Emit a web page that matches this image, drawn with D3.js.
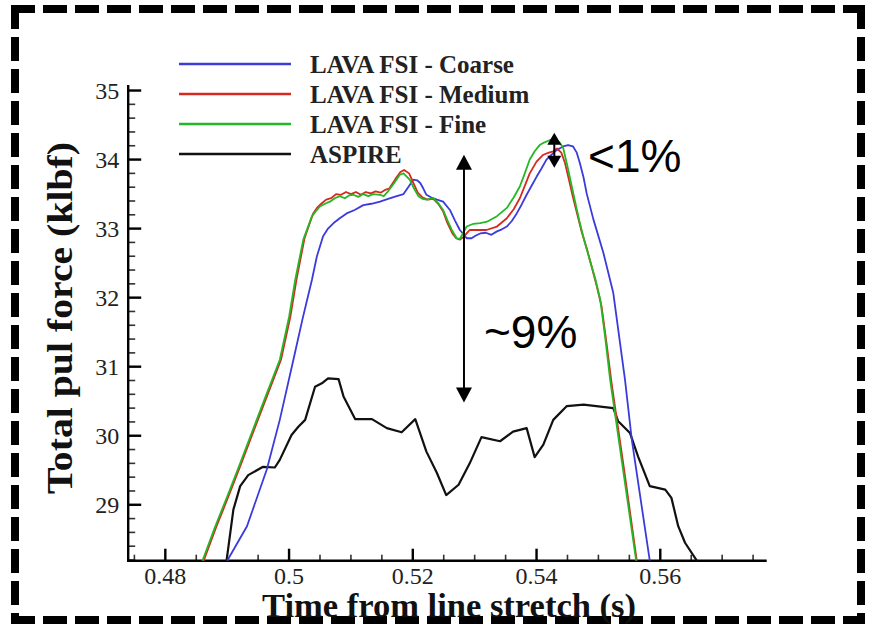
<!DOCTYPE html>
<html><head><meta charset="utf-8">
<script src="https://cdn.jsdelivr.net/npm/d3@7"></script>
<style>
html,body{margin:0;padding:0;background:#fff;}
svg{display:block;}
</style></head>
<body>
<svg id="chart" width="869" height="628"></svg>
<script>
// ---------------- DATA ----------------
const seriesNames = ["LAVA FSI - Coarse", "LAVA FSI - Medium", "LAVA FSI - Fine", "ASPIRE"];
const seriesColors = ["#3b3bdc", "#d42a20", "#24b824", "#111111"];

const coarseT = [0.4900,0.4932,0.4964,0.4985,0.5007,0.5022,0.5037,0.5045,0.5055,0.5063,0.5072,0.5082,0.5093,0.5106,0.5120,0.5133,0.5147,0.5160,0.5174,0.5185,0.5195,0.5201,0.5207,0.5212,0.5217,0.5222,0.5230,0.5239,0.5249,0.5260,0.5268,0.5276,0.5282,0.5287,0.5295,0.5302,0.5309,0.5318,0.5327,0.5336,0.5344,0.5352,0.5360,0.5368,0.5376,0.5384,0.5392,0.5400,0.5408,0.5416,0.5423,0.5430,0.5437,0.5443,0.5451,0.5459,0.5465,0.5470,0.5476,0.5481,0.5492,0.5508,0.5524,0.5543,0.5554,0.5583];
const coarseV = [28.19,28.69,29.51,30.23,31.10,31.70,32.26,32.60,32.89,33.00,33.08,33.15,33.22,33.27,33.34,33.36,33.39,33.43,33.47,33.50,33.63,33.71,33.70,33.66,33.58,33.49,33.45,33.42,33.39,33.27,33.12,32.98,32.92,32.86,32.86,32.90,32.93,32.94,32.91,32.96,32.99,33.03,33.11,33.22,33.35,33.49,33.62,33.75,33.87,34.00,34.06,34.12,34.16,34.19,34.21,34.19,34.10,33.95,33.74,33.51,33.13,32.65,32.07,30.81,29.94,28.19];

const mediumT = [0.4862,0.4882,0.4902,0.4922,0.4942,0.4962,0.4987,0.5002,0.5012,0.5025,0.5039,0.5045,0.5052,0.5060,0.5068,0.5076,0.5084,0.5092,0.5100,0.5108,0.5116,0.5124,0.5132,0.5140,0.5148,0.5155,0.5162,0.5172,0.5180,0.5186,0.5194,0.5200,0.5208,0.5216,0.5224,0.5233,0.5241,0.5249,0.5256,0.5264,0.5270,0.5276,0.5282,0.5287,0.5292,0.5305,0.5319,0.5336,0.5352,0.5363,0.5373,0.5381,0.5389,0.5400,0.5411,0.5420,0.5427,0.5433,0.5440,0.5446,0.5452,0.5459,0.5466,0.5473,0.5481,0.5489,0.5497,0.5505,0.5513,0.5521,0.5542,0.5562];
const mediumV = [28.19,28.67,29.12,29.58,30.05,30.52,31.10,31.72,32.26,32.86,33.22,33.30,33.36,33.42,33.44,33.50,33.49,33.53,33.50,33.53,33.49,33.53,33.51,33.54,33.52,33.56,33.58,33.72,33.82,33.85,33.80,33.68,33.52,33.45,33.42,33.43,33.36,33.25,33.08,32.93,32.86,32.84,32.88,32.93,32.98,32.98,32.98,33.03,33.15,33.28,33.44,33.62,33.80,33.97,34.07,34.10,34.12,34.16,34.10,33.95,33.72,33.45,33.20,32.95,32.72,32.45,32.18,31.88,31.35,30.78,29.48,28.19];

const fineT = [0.4860,0.4880,0.4900,0.4920,0.4940,0.4960,0.4985,0.5000,0.5010,0.5023,0.5037,0.5043,0.5050,0.5058,0.5066,0.5074,0.5082,0.5090,0.5097,0.5104,0.5112,0.5120,0.5128,0.5136,0.5147,0.5153,0.5160,0.5170,0.5179,0.5185,0.5195,0.5202,0.5209,0.5216,0.5222,0.5233,0.5241,0.5249,0.5256,0.5263,0.5271,0.5276,0.5281,0.5287,0.5298,0.5309,0.5320,0.5336,0.5352,0.5363,0.5373,0.5381,0.5389,0.5397,0.5405,0.5413,0.5421,0.5430,0.5437,0.5443,0.5450,0.5457,0.5464,0.5470,0.5478,0.5486,0.5495,0.5503,0.5511,0.5519,0.5540,0.5561];
const fineV = [28.19,28.67,29.12,29.58,30.05,30.52,31.10,31.72,32.26,32.84,33.18,33.25,33.32,33.36,33.39,33.44,33.47,33.44,33.48,33.49,33.46,33.50,33.47,33.50,33.49,33.47,33.54,33.66,33.78,33.80,33.71,33.58,33.47,33.43,33.42,33.44,33.37,33.27,33.12,32.98,32.86,32.85,32.93,33.03,33.07,33.08,33.10,33.18,33.30,33.45,33.61,33.80,34.00,34.12,34.21,34.25,34.28,34.29,34.25,34.17,33.90,33.61,33.32,33.08,32.80,32.55,32.27,31.97,31.42,30.81,29.50,28.19];

const aspireT = [0.4899,0.4910,0.4921,0.4934,0.4958,0.4977,0.4985,0.5004,0.5015,0.5026,0.5042,0.5053,0.5063,0.5080,0.5088,0.5107,0.5134,0.5158,0.5182,0.5204,0.5222,0.5239,0.5254,0.5274,0.5292,0.5311,0.5341,0.5362,0.5384,0.5397,0.5411,0.5427,0.5449,0.5476,0.5524,0.5532,0.5551,0.5564,0.5583,0.5608,0.5618,0.5629,0.5640,0.5659];
const aspireV = [28.19,28.93,29.27,29.43,29.55,29.54,29.65,30.01,30.13,30.23,30.71,30.76,30.83,30.82,30.57,30.24,30.24,30.11,30.05,30.24,29.77,29.46,29.14,29.29,29.60,29.98,29.92,30.06,30.11,29.69,29.87,30.23,30.43,30.45,30.40,30.21,30.04,29.70,29.27,29.22,29.10,28.69,28.45,28.19];

const xMajorTicks = [0.48, 0.50, 0.52, 0.54, 0.56];
const xTickLabels = ["0.48", "0.5", "0.52", "0.54", "0.56"];
const xMinorTicks = [0.475,0.485,0.49,0.495,0.505,0.51,0.515,0.525,0.53,0.535,0.545,0.55,0.555,0.565,0.57,0.575];
const yMajorTicks = [29, 30, 31, 32, 33, 34, 35];
const yTickLabels = ["29", "30", "31", "32", "33", "34", "35"];
const yMinorTicks = [28.2,28.4,28.6,28.8,29.2,29.4,29.6,29.8,30.2,30.4,30.6,30.8,31.2,31.4,31.6,31.8,32.2,32.4,32.6,32.8,33.2,33.4,33.6,33.8,34.2,34.4,34.6,34.8];

const xTitle = "Time from line stretch (s)";
const yTitle = "Total pul force (klbf)";

// annotations (data coordinates)
const bigArrow = {t: 0.52827, top: 34.07, bottom: 30.48};
const smallArrow = {t: 0.54287, top: 34.39, bottom: 33.88};
const notes = [{text: "~9%", t: 0.53151, v: 31.27}, {text: "<1%", t: 0.54832, v: 33.82}];

// ---------------- DRAW ----------------
const svg = d3.select("#chart");
const serif = "'Liberation Serif','Times New Roman',Times,serif";
const sans = "'Liberation Sans',Arial,Helvetica,sans-serif";

// dashed frame
const frame = svg.append("g").attr("stroke", "#000").attr("stroke-width", 8).attr("stroke-dasharray", "24 8").attr("fill", "none");
frame.append("line").attr("x1", 11).attr("y1", 9).attr("x2", 865).attr("y2", 9);
frame.append("line").attr("x1", 15).attr("y1", 5).attr("x2", 15).attr("y2", 624);
frame.append("line").attr("x1", 861).attr("y1", 5).attr("x2", 861).attr("y2", 624);
frame.append("line").attr("x1", 11).attr("y1", 620).attr("x2", 865).attr("y2", 620);

const x = d3.scaleLinear().domain([0.474, 0.5772]).range([128.2, 766.7]);
const y = d3.scaleLinear().domain([28.19, 35.08]).range([560.7, 85]);
const x0 = x.range()[0], y0 = y.range()[0];

// ticks (inward) as filled rects positioned by the scales
const ticks = svg.append("g").attr("fill", "#000");
ticks.selectAll("rect.xmaj").data(xMajorTicks).join("rect").attr("class", "xmaj")
  .attr("x", d => x(d) - 1.2).attr("y", y0 - 12).attr("width", 2.4).attr("height", 12);
ticks.selectAll("rect.xmin").data(xMinorTicks).join("rect").attr("class", "xmin")
  .attr("x", d => x(d) - 0.8).attr("y", y0 - 6).attr("width", 1.6).attr("height", 6).attr("fill", "#333");
ticks.selectAll("rect.ymaj").data(yMajorTicks).join("rect").attr("class", "ymaj")
  .attr("x", x0).attr("y", d => y(d) - 1.2).attr("width", 13).attr("height", 2.4);
ticks.selectAll("rect.ymin").data(yMinorTicks).join("rect").attr("class", "ymin")
  .attr("x", x0).attr("y", d => y(d) - 0.8).attr("width", 7).attr("height", 1.6).attr("fill", "#333");

// tick labels
svg.selectAll("text.xl").data(xMajorTicks).join("text").attr("class", "xl")
  .attr("x", d => x(d)).attr("y", 584).attr("text-anchor", "middle")
  .attr("font-family", serif).attr("font-size", 24).attr("fill", "#222").text((d, i) => xTickLabels[i]);
svg.selectAll("text.yl").data(yMajorTicks).join("text").attr("class", "yl")
  .attr("x", x0 - 9).attr("y", d => y(d) + 8).attr("text-anchor", "end")
  .attr("font-family", serif).attr("font-size", 24).attr("fill", "#222").text((d, i) => yTickLabels[i]);

// axis lines
svg.append("path").attr("d", `M${x0},${y.range()[1]}V${y0}H${x.range()[1]}`)
  .attr("fill", "none").attr("stroke", "#000").attr("stroke-width", 2.4);

// axis titles
svg.append("text").attr("x", 449).attr("y", 617).attr("text-anchor", "middle")
  .attr("font-family", serif).attr("font-weight", "bold").attr("font-size", 34)
  .attr("textLength", 374).attr("lengthAdjust", "spacingAndGlyphs").attr("fill", "#111").text(xTitle);
svg.append("text").attr("transform", "translate(72,318) rotate(-90)").attr("text-anchor", "middle")
  .attr("font-family", serif).attr("font-weight", "bold").attr("font-size", 35)
  .attr("textLength", 352).attr("lengthAdjust", "spacingAndGlyphs").attr("fill", "#111").text(yTitle);

// series
const seriesData = [
  d3.zip(coarseT, coarseV),
  d3.zip(mediumT, mediumV),
  d3.zip(fineT, fineV),
  d3.zip(aspireT, aspireV)
];
const line = d3.line().x(d => x(d[0])).y(d => y(d[1]));
const drawOrder = [3, 0, 1, 2];
drawOrder.forEach(i => {
  svg.append("path").datum(seriesData[i]).attr("d", line)
    .attr("fill", "none").attr("stroke", seriesColors[i]).attr("stroke-width", i === 3 ? 2.2 : 1.8)
    .attr("stroke-linejoin", "round");
});

// legend
const legendY = [64, 94, 124, 154];
const lg = svg.append("g");
seriesNames.forEach((name, i) => {
  lg.append("line").attr("x1", 179).attr("x2", 291).attr("y1", legendY[i]).attr("y2", legendY[i])
    .attr("stroke", seriesColors[i]).attr("stroke-width", 2.4);
  lg.append("text").attr("x", 310).attr("y", legendY[i] + 9)
    .attr("font-family", serif).attr("font-weight", "bold").attr("font-size", 25).attr("fill", "#222").text(name);
});

// annotation arrows
function doubleArrow(a, head, hw) {
  const xp = x(a.t), yt = y(a.top), yb = y(a.bottom);
  svg.append("line").attr("x1", xp).attr("x2", xp).attr("y1", yt + head - 1).attr("y2", yb - head + 1)
    .attr("stroke", "#000").attr("stroke-width", 2);
  svg.append("path").attr("d", `M${xp},${yt} L${xp - hw},${yt + head} L${xp + hw},${yt + head} Z`).attr("fill", "#000");
  svg.append("path").attr("d", `M${xp},${yb} L${xp - hw},${yb - head} L${xp + hw},${yb - head} Z`).attr("fill", "#000");
}
doubleArrow(bigArrow, 15, 8);
doubleArrow(smallArrow, 12, 7);

notes.forEach(n => {
  svg.append("text").attr("x", x(n.t)).attr("y", y(n.v)).attr("font-family", sans)
    .attr("font-size", 46).attr("fill", "#000").text(n.text);
});
</script>
</body></html>
